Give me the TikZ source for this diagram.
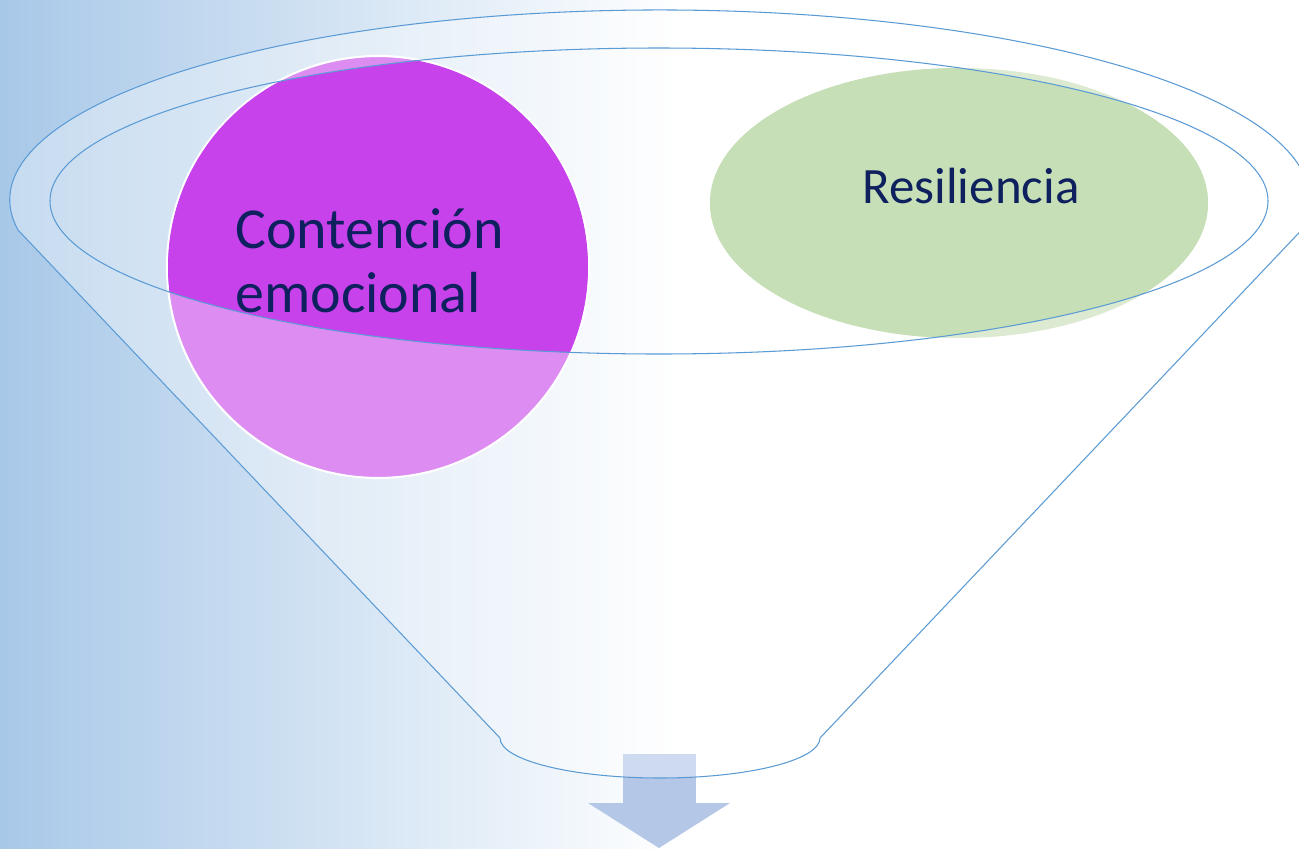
\documentclass[tikz,border=0pt]{standalone}
\usepackage{fontspec}
\setmainfont{Carlito}
\usetikzlibrary{positioning}

\definecolor{bgblue}{RGB}{168,200,232}
\definecolor{rimblue}{RGB}{91,155,213}
\definecolor{arrowblue}{RGB}{180,199,231}
\definecolor{purpledark}{RGB}{200,66,236}
\definecolor{purplelight}{RGB}{221,140,242}
\definecolor{greendark}{RGB}{198,223,182}
\definecolor{greenlight}{RGB}{220,234,210}
\definecolor{navytext}{RGB}{14,32,94}

\begin{document}
\begin{tikzpicture}[x=0.02cm, y=-0.02cm,
    rim/.style={draw=rimblue, line width=0.6pt},
    bubbletext/.style={text=navytext, inner sep=0pt}]
                \useasboundingbox (0,0) rectangle (1299,849);

                % Background
                \fill[white] (0,0) rectangle (1299,849);
                \shade[left color=bgblue, right color=white] (0,0) rectangle (680,849);

                % Arrow out of the funnel
                \fill[arrowblue] (623,754) rectangle (696,803);
                \fill[arrowblue] (588,803) -- (730,803) -- (659,848) -- cycle;

                % Funnel body
                \path[rim, fill=white, fill opacity=0.35] (18,230)
                    arc[start angle=170.9, end angle=369.1, x radius=650, y radius=190]
                    -- (820,738)
                    arc[start angle=0, end angle=180, x radius=160, y radius=40]
                    -- cycle;

                % Bubbles
                \fill[purplelight, draw=white, line width=1.2pt] (378,267) circle [radius=211];
                \fill[greenlight] (959,203) ellipse [x radius=249, y radius=135];
                \begin{scope}
                    \clip (659,201) ellipse [x radius=609, y radius=153];
                    \fill[purpledark] (378,267) circle [radius=210];
                    \fill[greendark] (959,203) ellipse [x radius=249, y radius=135];
                \end{scope}

                % Funnel rim
                \draw[rim] (659,201) ellipse [x radius=609, y radius=153];

                % Labels
                \node[bubbletext, anchor=base west, align=left, font=\fontsize{33}{62}\selectfont]
                    (contencion) at (235,312) {Contención\\[-26pt]emocional};
                \node[bubbletext, anchor=base, font=\fontsize{29}{35}\selectfont]
                    (resiliencia) at (971,203) {Resiliencia};
            \end{tikzpicture}
\end{document}
